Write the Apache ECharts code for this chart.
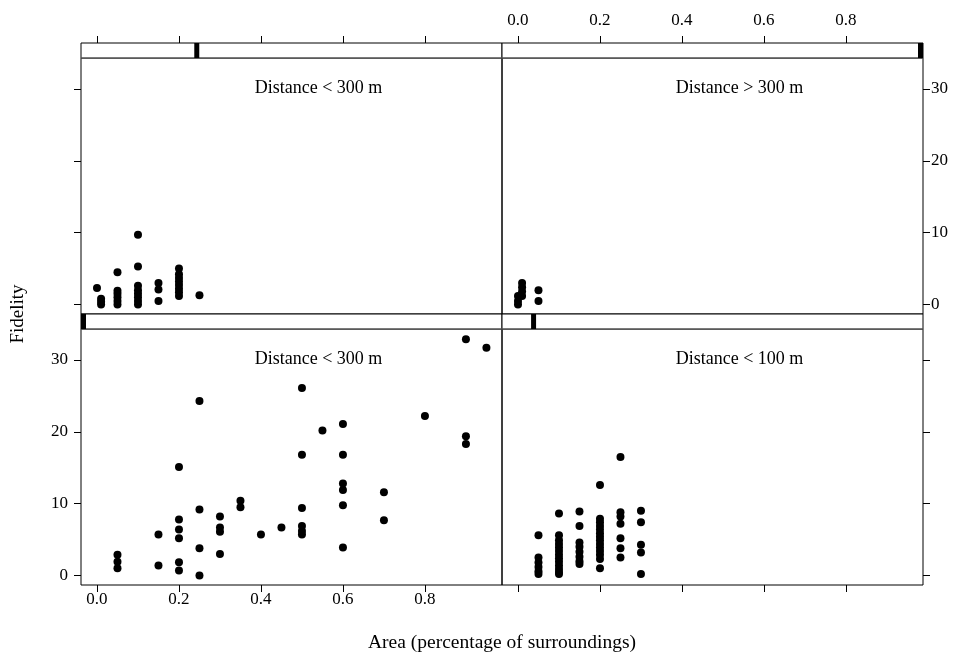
<!DOCTYPE html>
<html>
<head>
<meta charset="utf-8">
<script src="https://cdn.jsdelivr.net/npm/echarts@6/dist/echarts.min.js"></script>
<style>
html,body{margin:0;padding:0;background:#fff;}
#c{width:953px;height:654px;}
</style>
</head>
<body>
<div id="c"></div>
<script>
// ---- data ----
const xTicks = [0, 0.2, 0.4, 0.6, 0.8];
const yTicks = [0, 10, 20, 30];
const panelTitles = ['Distance < 300 m', 'Distance > 300 m', 'Distance < 300 m', 'Distance < 100 m'];
const xTitle = 'Area (percentage of surroundings)';
const yTitle = 'Fidelity';

// top-left panel
const tlX = [0, 0.01, 0.01, 0.01, 0.05, 0.05, 0.05, 0.05, 0.05, 0.05,
  0.1, 0.1, 0.1, 0.1, 0.1, 0.1, 0.1, 0.1, 0.15, 0.15, 0.15,
  0.2, 0.2, 0.2, 0.2, 0.2, 0.2, 0.2, 0.2, 0.25];
const tlY = [2.3, 0, 0.4, 0.8, 4.5, 0, 0.5, 1, 1.5, 1.9,
  9.7, 5.3, 0, 0.5, 1, 1.5, 2, 2.6, 3.0, 2.1, 0.5,
  1.2, 1.7, 2.2, 2.7, 3.2, 3.7, 4.2, 5.0, 1.3];

// top-right panel
const trX = [0, 0, 0, 0.01, 0.01, 0.01, 0.01, 0.05, 0.05];
const trY = [0, 0.5, 1.2, 1.2, 1.8, 2.4, 3.0, 2.0, 0.5];

// bottom-left panel
const blX = [0.05, 0.05, 0.05, 0.15, 0.15, 0.2, 0.2, 0.2, 0.2, 0.2, 0.2,
  0.25, 0.25, 0.25, 0.25, 0.3, 0.3, 0.3, 0.3, 0.35, 0.35, 0.4, 0.45,
  0.5, 0.5, 0.5, 0.5, 0.5, 0.5, 0.55, 0.6, 0.6, 0.6, 0.6, 0.6, 0.6,
  0.7, 0.7, 0.8, 0.9, 0.9, 0.9, 0.95];
const blY = [2.9, 1.9, 1.0, 5.7, 1.4, 15.1, 7.8, 6.4, 5.2, 1.85, 0.7,
  24.3, 9.2, 3.8, 0, 8.2, 6.7, 6.1, 3.0, 10.4, 9.5, 5.7, 6.7,
  26.1, 16.8, 9.4, 6.9, 6.2, 5.7, 20.2, 21.1, 16.8, 12.8, 11.9, 9.8, 3.9,
  11.6, 7.7, 22.2, 32.9, 19.4, 18.3, 31.7];

// bottom-right panel
const brX = [0.05, 0.05, 0.05, 0.05, 0.05, 0.05,
  0.1, 0.1, 0.1, 0.1, 0.1, 0.1, 0.1, 0.1, 0.1, 0.1, 0.1, 0.1, 0.1,
  0.15, 0.15, 0.15, 0.15, 0.15, 0.15, 0.15, 0.15,
  0.2, 0.2, 0.2, 0.2, 0.2, 0.2, 0.2, 0.2, 0.2, 0.2, 0.2, 0.2, 0.2, 0.2,
  0.25, 0.25, 0.25, 0.25, 0.25, 0.25, 0.25,
  0.3, 0.3, 0.3, 0.3, 0.3];
const brY = [5.6, 2.5, 1.8, 1.2, 0.6, 0.2,
  8.65, 5.6, 4.9, 4.4, 3.9, 3.4, 2.9, 2.4, 1.9, 1.4, 0.9, 0.5, 0.2,
  8.9, 6.9, 4.6, 4.0, 3.3, 2.6, 2.0, 1.6,
  12.6, 7.9, 7.4, 6.9, 6.4, 5.9, 5.4, 4.9, 4.4, 3.9, 3.4, 2.9, 2.3, 1.0,
  16.5, 8.8, 8.2, 7.2, 5.2, 3.8, 2.5,
  9.0, 7.4, 4.3, 3.2, 0.2];

// strip level indicator (shingle position within strip, as fraction of width)
const stripLevels = [0.275, 0.995, 0.006, 0.075];

// ---- layout ----
const FONT = 'Liberation Serif';
const GL = 81, GW = 421, GR = GL + GW;
const TOP1 = 58, H = 256, STRIP = 15;
const TOP2 = TOP1 + H + STRIP;
const grids = [
  {left: GL, top: TOP1}, {left: GR, top: TOP1},
  {left: GL, top: TOP2}, {left: GR, top: TOP2}
];
const panelData = [[tlX, tlY], [trX, trY], [blX, blY], [brX, brY]];
const xLabelShow = [false, true, true, false];
const yLabelShow = [false, true, true, false];

const option = {
  animation: false,
  backgroundColor: '#fff',
  grid: grids.map(g => ({
    left: g.left, top: g.top, width: GW, height: H,
    show: true, borderColor: '#000', borderWidth: 1, backgroundColor: 'transparent',
    containLabel: false
  })),
  xAxis: grids.map((g, i) => ({
    type: 'value', gridIndex: i, min: -0.039, max: 0.988,
    position: i < 2 ? 'top' : 'bottom',
    offset: i < 2 ? STRIP : 0,
    splitLine: {show: false},
    axisLine: {show: false, onZero: false},
    axisTick: {show: true, inside: false, length: 7, customValues: xTicks,
      lineStyle: {color: '#000', width: 1}},
    axisLabel: {show: xLabelShow[i], customValues: xTicks, margin: i < 2 ? 14 : 6,
      color: '#000', fontFamily: FONT, fontSize: 17,
      formatter: v => v.toFixed(1)}
  })),
  yAxis: grids.map((g, i) => ({
    type: 'value', gridIndex: i, min: -1.32, max: 34.32,
    position: i % 2 === 0 ? 'left' : 'right',
    splitLine: {show: false},
    axisLine: {show: false, onZero: false},
    axisTick: {show: true, inside: false, length: 7, customValues: yTicks,
      lineStyle: {color: '#000', width: 1}},
    axisLabel: {show: yLabelShow[i], customValues: yTicks, margin: i % 2 === 0 ? 13 : 8,
      color: '#000', fontFamily: FONT, fontSize: 17,
      formatter: v => String(Math.round(v))}
  })),
  series: panelData.map((d, i) => ({
    type: 'scatter', xAxisIndex: i, yAxisIndex: i,
    symbol: 'circle', symbolSize: 8,
    itemStyle: {color: '#000', opacity: 1},
    data: d[0].map((x, k) => [x, d[1][k]])
  })),
  graphic: []
};

// strips
grids.forEach((g, i) => {
  const sy = g.top - STRIP;
  option.graphic.push({
    type: 'rect', z: 100,
    shape: {x: g.left, y: sy, width: GW, height: STRIP},
    style: {fill: '#fff', stroke: '#000', lineWidth: 1}
  });
  option.graphic.push({
    type: 'line', z: 101,
    shape: {x1: g.left, y1: g.top, x2: g.left + GW, y2: g.top},
    style: {stroke: '#777', lineWidth: 1}
  });
  const bx = g.left + stripLevels[i] * GW;
  option.graphic.push({
    type: 'rect', z: 102,
    shape: {x: Math.min(bx - 2.5, g.left + GW - 5), y: sy, width: 5, height: STRIP},
    style: {fill: '#000'}
  });
  option.graphic.push({
    type: 'text', z: 103,
    x: g.left + GW / 2 + 27, y: g.top + 30,
    style: {text: panelTitles[i], font: '18px "Liberation Serif"', fill: '#000',
      align: 'center', verticalAlign: 'middle'}
  });
});
option.graphic.push({
  type: 'text', x: GR, y: 643,
  style: {text: xTitle, font: '19.5px "Liberation Serif"', fill: '#000', align: 'center', verticalAlign: 'middle'}
});
option.graphic.push({
  type: 'text', x: 18, y: 314, rotation: Math.PI / 2,
  style: {text: yTitle, font: '19px "Liberation Serif"', fill: '#000', align: 'center', verticalAlign: 'middle'}
});

const chart = echarts.init(document.getElementById('c'), null, {renderer: 'canvas'});
chart.setOption(option);
</script>
</body>
</html>
